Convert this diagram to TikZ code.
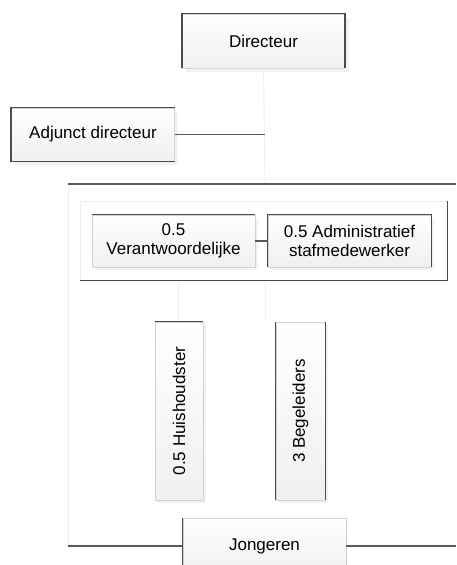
\documentclass[tikz,border=0pt]{standalone}
\usepackage{fontspec}
\setmainfont{Liberation Sans}
\begin{document}
\begin{tikzpicture}[x=1pt, y=-1pt,
    box/.style={draw=gray!35, line width=0.8pt, top color=white, bottom color=gray!12,
                align=center, inner sep=0pt, font=\fontsize{17}{19}\selectfont},
    shade/.style={fill=gray!10},
    edge/.style={draw=black!70, line width=1.6pt},
    link/.style={draw=black!65, line width=1.2pt},
    faint/.style={draw=gray!12, line width=1pt}]
    \useasboundingbox (0,0) rectangle (456,565);

    % --- KADER TEAM ---
    \coordinate (Tl) at (68,184);
    \coordinate (Tr) at (456,184);
    \coordinate (Bl) at (68,546);
    \coordinate (Br) at (456,546);
    \coordinate (J1) at (265,184);
    \coordinate (J2) at (265,134.5);

    % --- LIJNEN ACHTER DE BLOKKEN ---
    \draw[faint] (263.5,68) -- (J1);
    \draw[faint] (Tl) -- (Bl);
    \draw[faint] (178,267) -- (178,322);
    \draw[faint] (265,280) -- (265,322);

    % --- DIRECTIE ---
    \fill[shade] (186,18) rectangle (349,72);
    \node[box, minimum width=162, minimum height=54] (dir) at (263.5,41) {Directeur};
    \draw[edge] (dir.south west) -- (dir.north west) -- (dir.north east) -- (dir.south east);

    \fill[shade] (15,112) rectangle (178,165);
    \node[box, minimum width=163, minimum height=53] (adj) at (93,134.5) {Adjunct directeur};
    \draw[edge] (adj.north east) -- (adj.north west) -- (adj.south west) -- (adj.south east);

    \draw[link] (adj.east) -- (J2);
    \draw[link] (Tl) -- (Tr);

    % --- STAF ---
    \node[draw=gray!15, line width=0.8pt, fill=white, minimum width=367, minimum height=79] (staf) at (263.5,240.5) {};
    \draw[edge] (staf.north east) -- (staf.south east) -- (staf.south west);

    \fill[shade] (95,218) rectangle (258,270);
    \node[box, minimum width=163, minimum height=52] (ma) at (173.5,241) {0.5\\Verantwoordelijke};
    \draw[edge] (ma.north west) -- (ma.north east);

    \fill[shade] (271,218) rectangle (434,270);
    \node[box, minimum width=163, minimum height=52] (adm) at (349.5,241) {0.5 Administratief\\stafmedewerker};
    \draw[edge] (adm.south west) -- (adm.north west) -- (adm.north east) -- (adm.south east);

    \draw[link] (ma.east) -- (adm.west);

    % --- UITVOERING ---
    \fill[shade] (158,325) rectangle (206,503);
    \node[box, minimum width=48, minimum height=178] (hh) at (179,411) {};
    \node[font=\fontsize{17}{19}\selectfont, rotate=90] (hhtxt) at (hh.center) {0.5 Huishoudster};
    \draw[edge] (hh.north west) -- (hh.north east);

    \fill[shade] (279,325) rectangle (328,503);
    \node[box, minimum width=49, minimum height=178] (bg) at (300.5,411) {};
    \node[font=\fontsize{17}{19}\selectfont, rotate=90] (bgtxt) at (bg.center) {3 Begeleiders};
    \draw[edge] (bg.south west) -- (bg.north west);
    \draw[edge] (bg.north east) -- (bg.south east);

    % --- DOELGROEP ---
    \node[box, minimum width=163, minimum height=56] (jong) at (264.5,546) {Jongeren};
    \draw[edge] (jong.south west) -- (jong.north west);
    \draw[link] (Bl) -- (jong.west);
    \draw[link] (jong.east) -- (Br);

\end{tikzpicture}
\end{document}
